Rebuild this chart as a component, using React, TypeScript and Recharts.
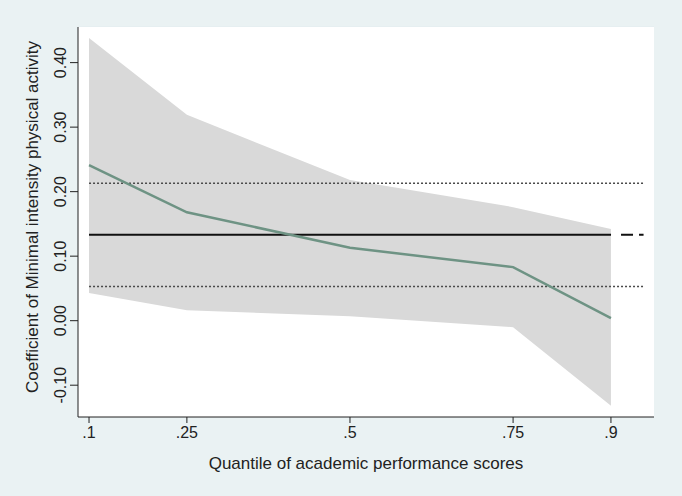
import {
	ComposedChart,
	Area,
	Line,
	XAxis,
	YAxis,
	CartesianGrid
} from 'recharts'

// quantile regression estimates
const quantiles = [0.1, 0.25, 0.5, 0.75, 0.9]
const coef = [0.241, 0.168, 0.113, 0.083, 0.004]
const ciLow = [0.043, 0.016, 0.007, -0.01, -0.132]
const ciHigh = [0.438, 0.319, 0.218, 0.176, 0.142]

// OLS estimate and its CI, drawn across the quantile range
const olsSpan = [0.1, 0.95]
const olsCoef = 0.133
const olsLow = 0.053
const olsHigh = 0.213

const xTicks = [0.1, 0.25, 0.5, 0.75, 0.9]
const yTicks = [-0.1, 0, 0.1, 0.2, 0.3, 0.4]

const xTitle = 'Quantile of academic performance scores'
const yTitle = 'Coefficient of Minimal intensity physical activity'

const qrData = quantiles.map((q, i) => ({
	q,
	coef: coef[i],
	band: [ciLow[i], ciHigh[i]]
}))

const flat = (v: number) => olsSpan.map((q) => ({ q, v }))

const FONT = 'Liberation Sans, Arial, sans-serif'
const TICK_FS = 16
const TITLE_FS = 17

function YTick(props: any) {
	const { x, y, payload } = props
	const tx = x - 2
	return (
		<text
			x={tx}
			y={y}
			transform={`rotate(-90, ${tx}, ${y})`}
			textAnchor='middle'
			fontSize={TICK_FS}
			fontFamily={FONT}
			fill='#222'
		>
			{payload.value.toFixed(2)}
		</text>
	)
}

function App() {
	return (
		<div
			style={{
				position: 'absolute',
				left: 0,
				top: 0,
				width: 682,
				height: 496,
				background: '#eaf2f3'
			}}
		>
			<ComposedChart
				width={682}
				height={496}
				data={qrData}
				margin={{ top: 27, right: 28, left: 0, bottom: 0 }}
			>
				<rect x={78} y={27} width={576} height={390} fill='#ffffff' />
				<CartesianGrid
					vertical={false}
					stroke='#e4eef0'
					strokeWidth={1.5}
				/>
				<XAxis
					dataKey='q'
					type='number'
					domain={[0.0831, 0.966]}
					ticks={xTicks}
					allowDataOverflow
					height={79}
					tickSize={6}
					tickMargin={4}
					stroke='#222'
					tick={{ fontSize: TICK_FS, fontFamily: FONT, fill: '#222' }}
					tickFormatter={(v: number) => String(v).replace(/^0/, '')}
					label={{
						value: xTitle,
						position: 'insideBottom',
						offset: 27,
						style: { fontSize: TITLE_FS, fontFamily: FONT, fill: '#222' }
					}}
				/>
				<YAxis
					type='number'
					domain={[-0.1493, 0.4552]}
					ticks={yTicks}
					allowDataOverflow
					width={78}
					tickSize={8}
					tickMargin={2}
					stroke='#222'
					tick={<YTick />}
					label={{
						value: yTitle,
						content: (p: any) => {
							const vb = p.viewBox
							const cx = 38
							const cy = vb.y + vb.height / 2 - 5
							return (
								<text
									x={cx}
									y={cy}
									transform={`rotate(-90, ${cx}, ${cy})`}
									textAnchor='middle'
									fontSize={TITLE_FS}
									fontFamily={FONT}
									fill='#222'
								>
									{yTitle}
								</text>
							)
						}
					}}
				/>
				<Area
					dataKey='band'
					type='linear'
					fill='#d9d9d9'
					fillOpacity={1}
					stroke='none'
					isAnimationActive={false}
					activeDot={false}
				/>
				<Line
					data={flat(olsHigh)}
					dataKey='v'
					stroke='#4a4a4a'
					strokeWidth={1.5}
					strokeDasharray='2 2'
					dot={false}
					isAnimationActive={false}
				/>
				<Line
					data={flat(olsLow)}
					dataKey='v'
					stroke='#4a4a4a'
					strokeWidth={1.5}
					strokeDasharray='2 2'
					dot={false}
					isAnimationActive={false}
				/>
				<Line
					data={flat(olsCoef)}
					dataKey='v'
					stroke='#111'
					strokeWidth={2}
					strokeDasharray='522 10 12 6 12 6'
					dot={false}
					isAnimationActive={false}
				/>
				<Line
					dataKey='coef'
					type='linear'
					stroke='#6e9384'
					strokeWidth={2.5}
					dot={false}
					isAnimationActive={false}
				/>
			</ComposedChart>
		</div>
	)
}

export default App
